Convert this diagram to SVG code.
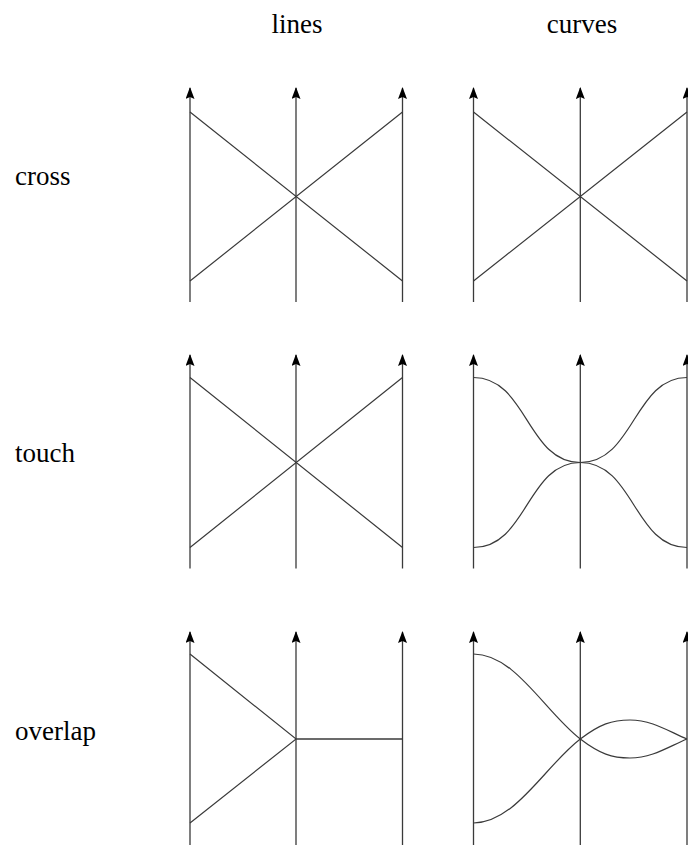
<svg xmlns="http://www.w3.org/2000/svg" width="688" height="845" viewBox="0 0 688 845">
<defs>
<marker id="ah" viewBox="0 0 12 9" refX="11" refY="4.5" markerWidth="12" markerHeight="9" markerUnits="userSpaceOnUse" orient="auto">
<path d="M0,0 L12,4.5 L0,9 L2,4.5 Z" fill="#000"/>
</marker>
<style>
.t{font-family:"Liberation Serif","Times New Roman",serif;font-size:27px;fill:#000}
.ax{stroke:#3a3a3a;stroke-width:1.3;fill:none;marker-end:url(#ah)}
.ln{stroke:#3a3a3a;stroke-width:1.2;fill:none}
</style>
</defs>
<g id="headers">
<text class="t" x="297" y="33" text-anchor="middle">lines</text>
<text class="t" x="582" y="33" text-anchor="middle">curves</text>
</g>
<g id="labels">
<text class="t" x="15" y="185">cross</text>
<text class="t" x="15" y="461.5">touch</text>
<text class="t" x="15" y="740">overlap</text>
</g>
<g id="axes">
<line class="ax" x1="190" y1="302" x2="190" y2="88"/>
<line class="ax" x1="296" y1="302" x2="296" y2="88"/>
<line class="ax" x1="402.5" y1="302" x2="402.5" y2="88"/>
<line class="ax" x1="473.5" y1="302" x2="473.5" y2="88"/>
<line class="ax" x1="580.3" y1="302" x2="580.3" y2="88"/>
<line class="ax" x1="687" y1="302" x2="687" y2="88"/>
<line class="ax" x1="190" y1="568.5" x2="190" y2="355"/>
<line class="ax" x1="296" y1="568.5" x2="296" y2="355"/>
<line class="ax" x1="402.5" y1="568.5" x2="402.5" y2="355"/>
<line class="ax" x1="473.5" y1="568.5" x2="473.5" y2="355"/>
<line class="ax" x1="580.3" y1="568.5" x2="580.3" y2="355"/>
<line class="ax" x1="687" y1="568.5" x2="687" y2="355"/>
<line class="ax" x1="190" y1="846" x2="190" y2="632"/>
<line class="ax" x1="296" y1="846" x2="296" y2="632"/>
<line class="ax" x1="402.5" y1="846" x2="402.5" y2="632"/>
<line class="ax" x1="473.5" y1="846" x2="473.5" y2="632"/>
<line class="ax" x1="580.3" y1="846" x2="580.3" y2="632"/>
<line class="ax" x1="687" y1="846" x2="687" y2="632"/>
</g>
<g id="connectors">
<path class="ln" d="M190,112 L402.5,281 M190,281 L402.5,112"/>
<path class="ln" d="M473.5,112 L687,281 M473.5,281 L687,112"/>
<path class="ln" d="M190,377.5 L402.5,547.5 M190,547.5 L402.5,377.5"/>
<path class="ln" d="M473.5,377.5 C527,377.5 527,462.5 580.3,462.5 C634,462.5 634,377.5 687,377.5"/>
<path class="ln" d="M473.5,547.5 C527,547.5 527,462.5 580.3,462.5 C634,462.5 634,547.5 687,547.5"/>
<path class="ln" d="M190,654 L296,739 L402.5,739"/>
<path class="ln" d="M190,823 L296,739 L402.5,739"/>
<path class="ln" d="M473.5,654 C515,654 545,712 580.3,739 C600,754 612,758 630,758 C652,758 668,747 687,739"/>
<path class="ln" d="M473.5,823 C515,823 545,766 580.3,739 C600,724 612,720 630,720 C652,720 668,731 687,739"/>
</g>
</svg>
